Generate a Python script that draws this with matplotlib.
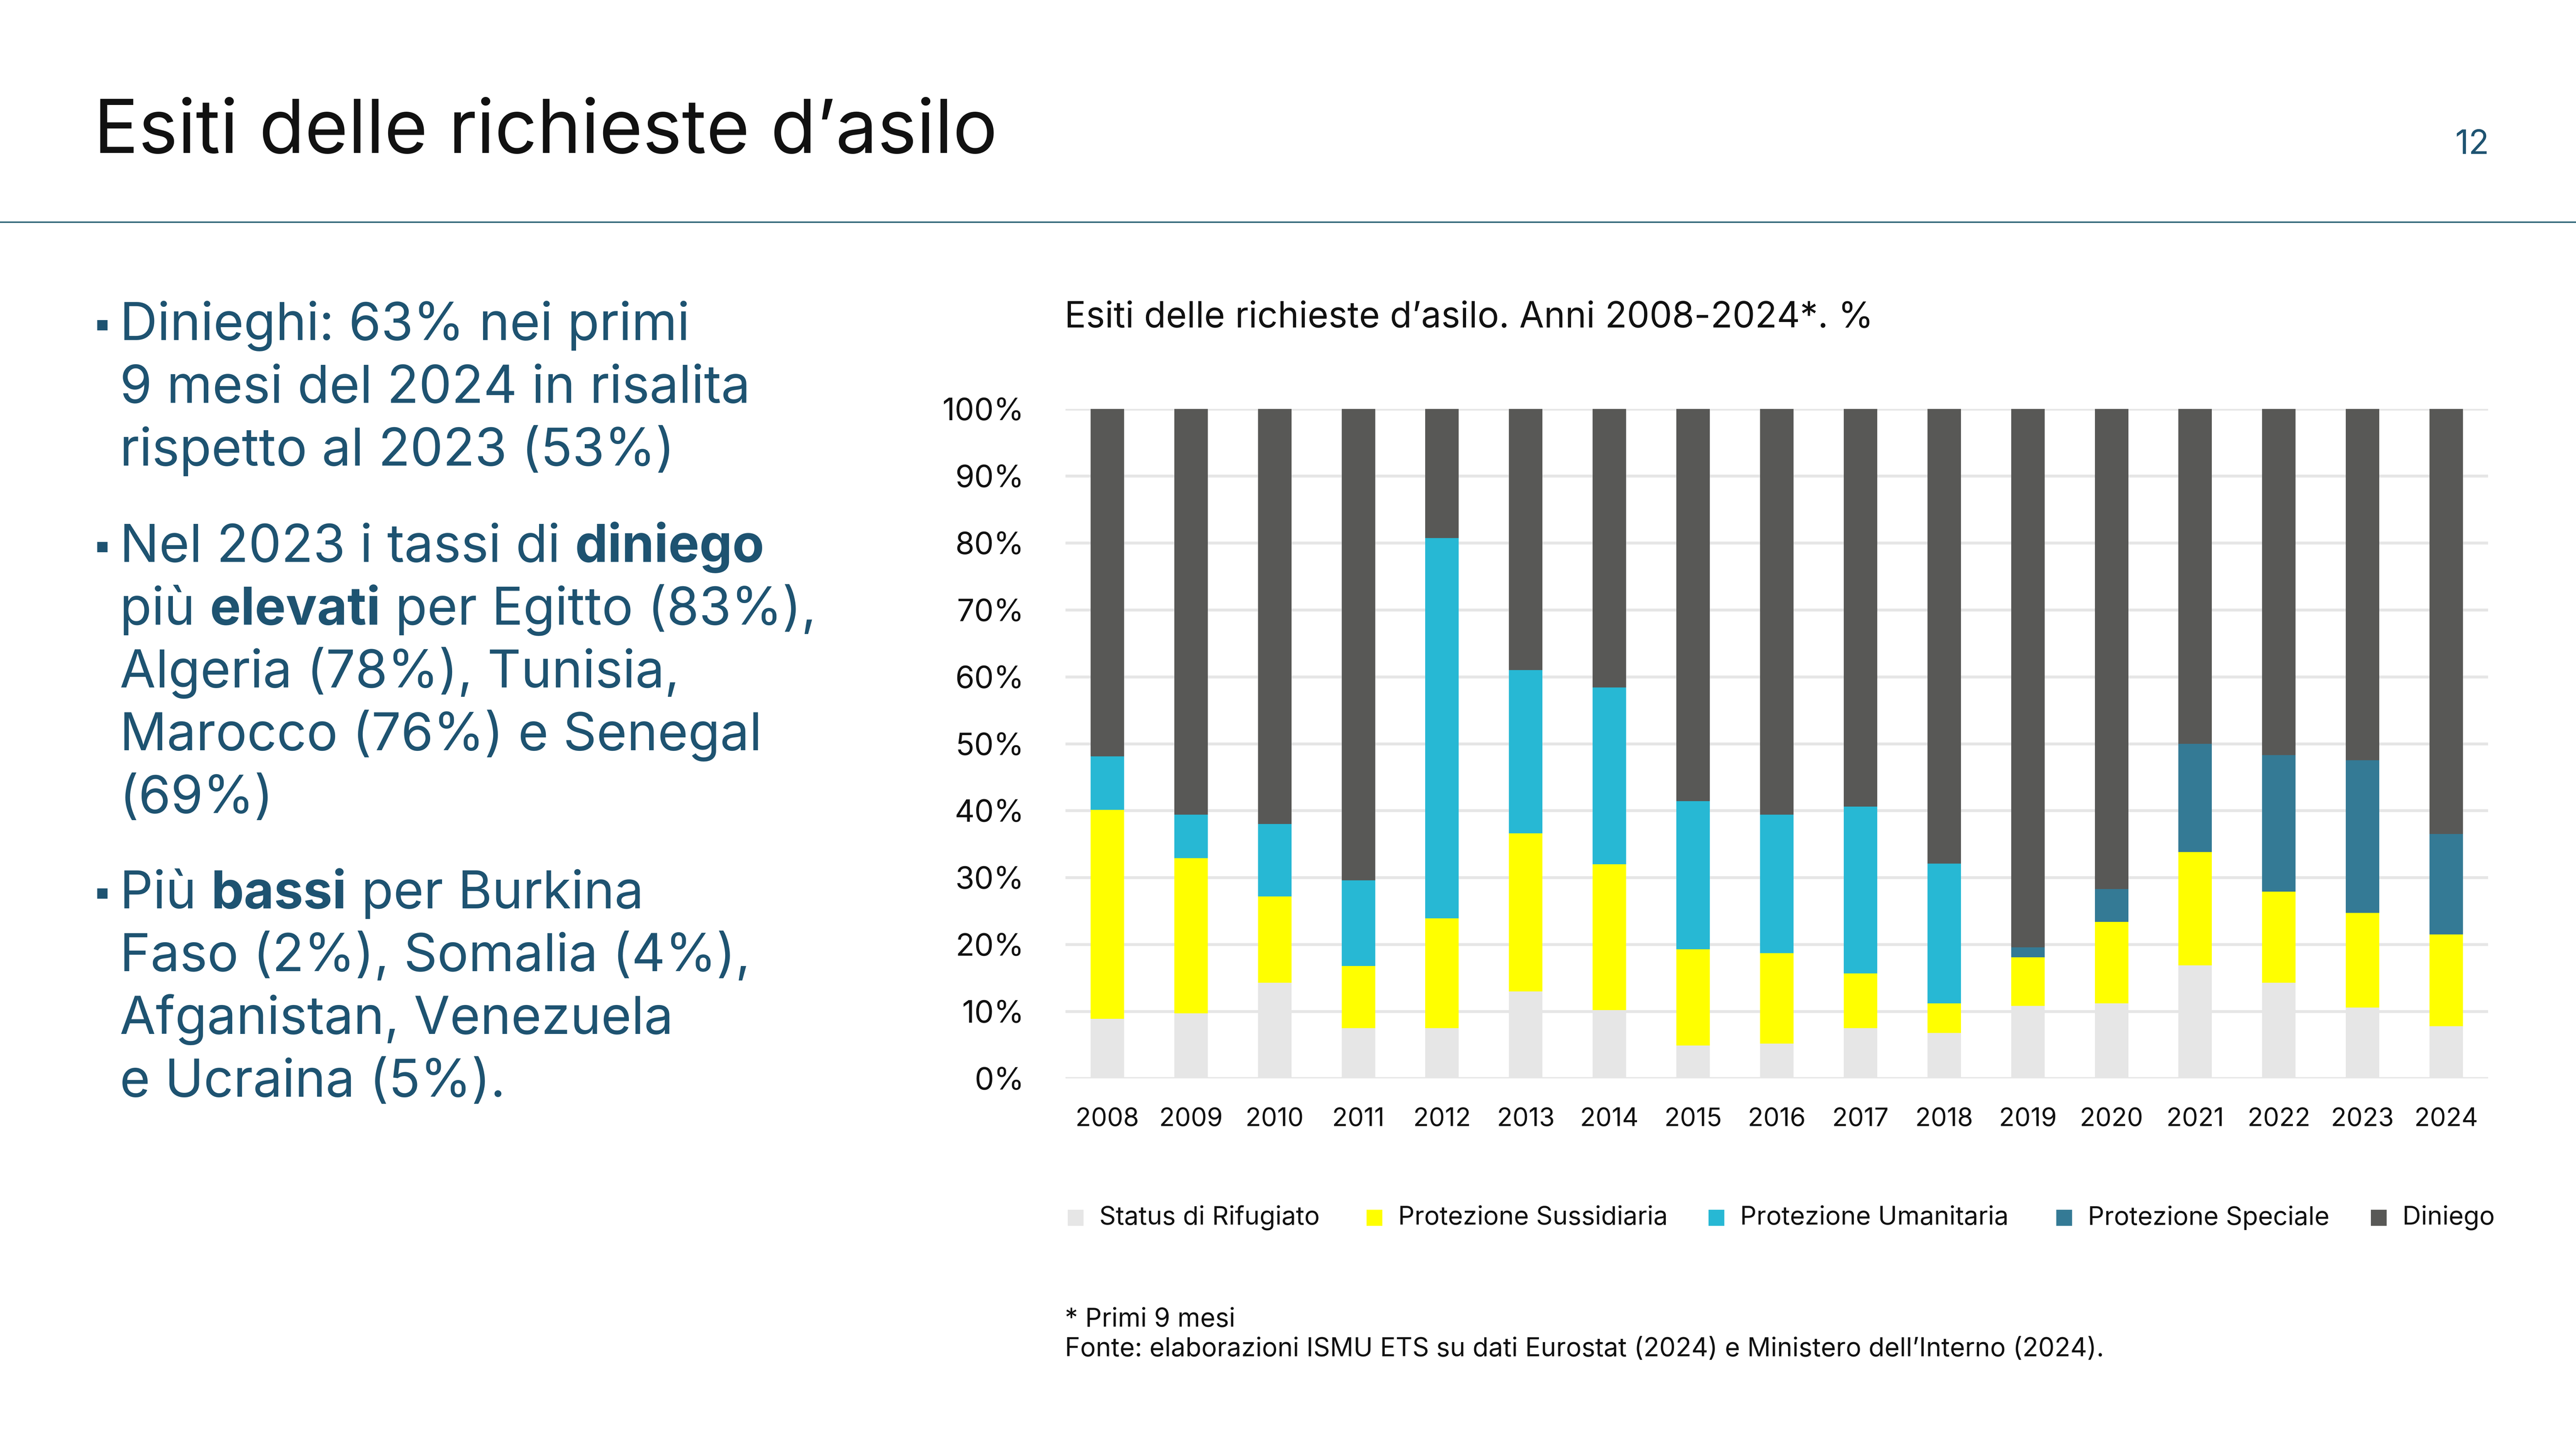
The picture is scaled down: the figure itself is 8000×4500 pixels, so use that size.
import matplotlib
matplotlib.use("Agg")
import numpy as np
import matplotlib.pyplot as plt
from matplotlib.patches import Rectangle
from matplotlib.lines import Line2D
from matplotlib.ticker import PercentFormatter

plt.rcParams['font.family'] = ['Inter', 'DejaVu Sans']

W, H = 8000, 4500

# data (%)
years = ['2008', '2009', '2010', '2011', '2012', '2013', '2014', '2015', '2016',
         '2017', '2018', '2019', '2020', '2021', '2022', '2023', '2024']
status = [8.9, 9.7, 14.3, 7.5, 7.5, 13.0, 10.2, 4.9, 5.2, 7.5, 6.8, 10.8, 11.2, 16.9, 14.3, 10.6, 7.8]
sussidiaria = [31.2, 23.2, 12.9, 9.3, 16.4, 23.6, 21.8, 14.4, 13.5, 8.2, 4.4, 7.3, 12.2, 16.9, 13.6, 14.1, 13.7]
umanitaria = [8.0, 6.5, 10.8, 12.8, 56.8, 24.4, 26.4, 22.1, 20.7, 24.9, 20.9, 0, 0, 0, 0, 0, 0]
speciale = [0, 0, 0, 0, 0, 0, 0, 0, 0, 0, 0, 1.5, 4.9, 16.2, 20.4, 22.8, 15.0]
diniego = [51.9, 60.6, 62.0, 70.4, 19.3, 39.0, 41.6, 58.6, 60.6, 59.4, 67.9, 80.4, 71.7, 50.0, 51.7, 52.5, 63.5]

series_names = ['Status di Rifugiato', 'Protezione Sussidiaria', 'Protezione Umanitaria',
                'Protezione Speciale', 'Diniego']
series_colors = ['#e6e6e6', '#ffff00', '#27b8d4', '#347a95', '#585856']

bullets = [
    [[("Dinieghi: 63% nei primi", False)],
     [("9 mesi del 2024 in risalita", False)],
     [("rispetto al 2023 (53%)", False)]],
    [[("Nel 2023 i tassi di ", False), ("diniego", True)],
     [("più ", False), ("elevati", True), (" per Egitto (83%),", False)],
     [("Algeria (78%), Tunisia,", False)],
     [("Marocco (76%) e Senegal", False)],
     [("(69%)", False)]],
    [[("Più ", False), ("bassi", True), (" per Burkina", False)],
     [("Faso (2%), Somalia (4%),", False)],
     [("Afganistan, Venezuela", False)],
     [("e Ucraina (5%).", False)]],
]

blue = '#1e5371'
ink = '#111111'
body_size = 23.3

fig = plt.figure(figsize=(16, 9), dpi=500)
fig.patch.set_facecolor('white')


def fx(px):
    return px / W


def fy(py):
    return 1 - py / H


# header
fig.text(fx(291), fy(475), "Esiti delle richieste d\u2019asilo", fontsize=33.3,
         color=ink, ha='left', va='baseline')
fig.text(fx(7730), fy(478), "12", fontsize=15, color=blue, ha='right', va='baseline')
fig.add_artist(Line2D([0, 1], [fy(690), fy(690)], transform=fig.transFigure,
                      color='#1f5a6e', lw=0.6))

# bullet text, bold words laid out piece by piece
renderer = fig.canvas.get_renderer()


def seg_width(s, bold):
    w = 'bold' if bold else 'normal'
    a = fig.text(0, 0, "x" + s + "x", fontsize=body_size, fontweight=w)
    b = fig.text(0, 0, "xx", fontsize=body_size, fontweight=w)
    d = a.get_window_extent(renderer).width - b.get_window_extent(renderer).width
    a.remove()
    b.remove()
    return d


block_starts = [1056, 1745, 2821]
line_step = 195
for block, y0 in zip(bullets, block_starts):
    fig.add_artist(Rectangle((fx(302), fy(y0 - 30)), fx(32), 32 / H,
                             transform=fig.transFigure, color=blue, lw=0))
    for i, line in enumerate(block):
        y = y0 + i * line_step
        x = 372
        for s, bold in line:
            fig.text(fx(x), fy(y), s, fontsize=body_size, color=blue,
                     fontweight='bold' if bold else 'normal', ha='left', va='baseline')
            x += seg_width(s, bold)

# chart
ax = fig.add_axes([fx(3309), fy(3349), (7727 - 3309) / W, (3349 - 1270) / H])
pos = np.arange(len(years))
bottom = np.zeros(len(years))
for vals, name, col in zip([status, sussidiaria, umanitaria, speciale, diniego],
                           series_names, series_colors):
    ax.bar(pos, vals, width=0.4, bottom=bottom, color=col, label=name, zorder=2)
    bottom = bottom + np.array(vals)

ax.set_xlim(-0.5, len(years) - 0.5)
ax.set_ylim(0, 100)
ax.set_yticks(np.arange(0, 101, 10))
ax.yaxis.set_major_formatter(PercentFormatter(decimals=0))
ax.set_xticks(pos)
ax.set_xticklabels(years)
ax.yaxis.grid(True, color='#e6e6e6', lw=1.3, zorder=0)
ax.set_axisbelow(True)
for sp in ax.spines.values():
    sp.set_visible(False)
ax.tick_params(axis='y', length=0, pad=18.5, labelsize=13.8, labelcolor=ink)
ax.tick_params(axis='x', length=0, pad=13, labelsize=11.4, labelcolor=ink)

fig.text(fx(3306), fy(1017), "Esiti delle richieste d\u2019asilo. Anni 2008-2024*. %",
         fontsize=16, color=ink, ha='left', va='baseline')

# legend, placed by hand
legend_sq_x = [3316, 4244, 5306, 6386, 7363]
for name, col, lx in zip(series_names, series_colors, legend_sq_x):
    fig.add_artist(Rectangle((fx(lx), fy(3782 + 25)), fx(49), 50 / H,
                             transform=fig.transFigure, color=col, lw=0))
    fig.text(fx(lx + 98), fy(3782), name, fontsize=11.5, color=ink,
             ha='left', va='center')

fig.text(fx(3307), fy(4120), "* Primi 9 mesi", fontsize=11.6, color=ink,
         ha='left', va='baseline')
fig.text(fx(3307), fy(4212),
         "Fonte: elaborazioni ISMU ETS su dati Eurostat (2024) e Ministero dell\u2019Interno (2024).",
         fontsize=11.6, color=ink, ha='left', va='baseline')

fig.savefig("out.png", dpi=500, facecolor='white')
